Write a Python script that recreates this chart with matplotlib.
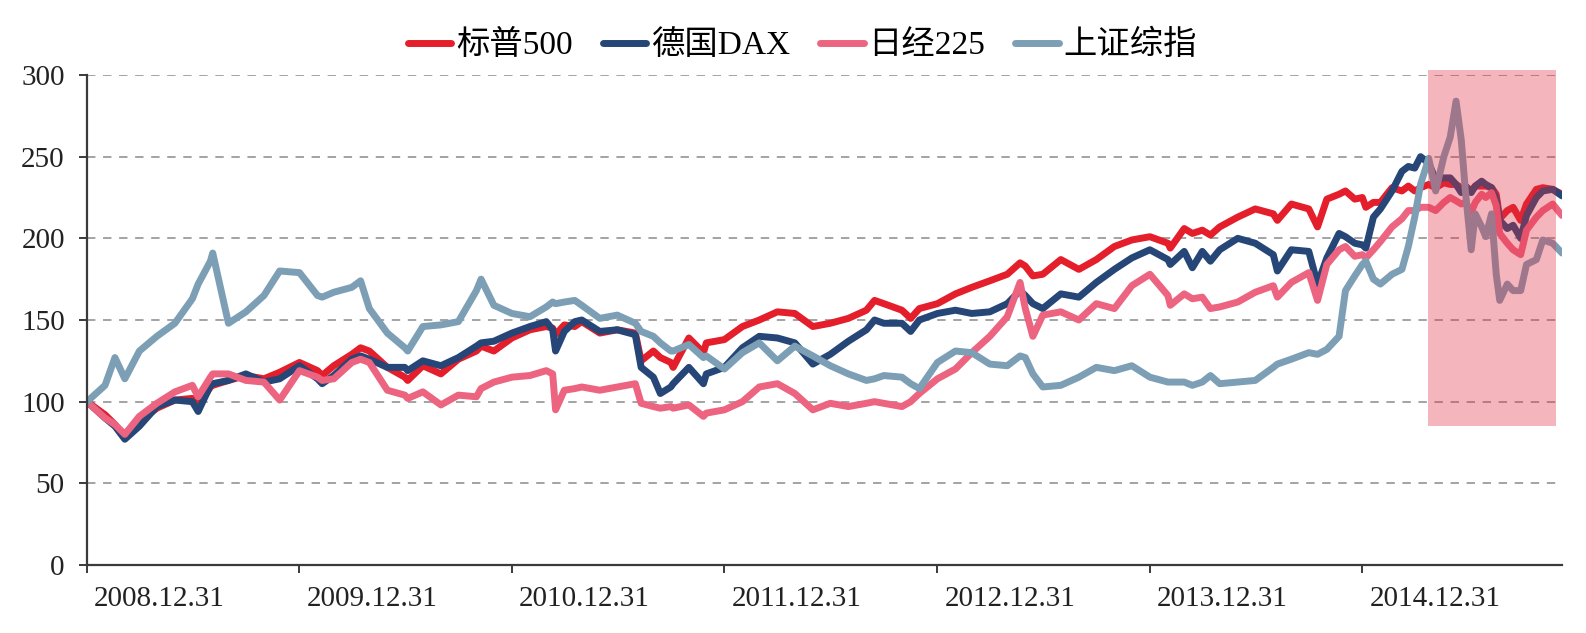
import matplotlib
matplotlib.use("Agg")
import matplotlib.pyplot as plt
import pandas as pd

# index levels, 2008.12.31 = 100
DATES = [
    "2008-12-31",
    "2009-01-31", "2009-02-17", "2009-03-06", "2009-03-31", "2009-04-30", "2009-05-31", "2009-06-30",
    "2009-07-10", "2009-07-31", "2009-08-04", "2009-08-31", "2009-09-30", "2009-10-31", "2009-11-27",
    "2009-12-31",
    "2010-01-31", "2010-02-08", "2010-02-28", "2010-03-31", "2010-04-15", "2010-04-30", "2010-05-31",
    "2010-06-30", "2010-07-05", "2010-07-31", "2010-08-31", "2010-09-30", "2010-10-31", "2010-11-08",
    "2010-11-30", "2010-12-31",
    "2011-01-31", "2011-02-28", "2011-03-11", "2011-03-16", "2011-03-31", "2011-04-18", "2011-04-30",
    "2011-05-31", "2011-06-30", "2011-07-31", "2011-08-10", "2011-08-31", "2011-09-12", "2011-09-30",
    "2011-10-04", "2011-10-31", "2011-11-25", "2011-11-30", "2011-12-31",
    "2012-01-31", "2012-02-29", "2012-03-31", "2012-04-30", "2012-05-31", "2012-06-30", "2012-07-31",
    "2012-08-31", "2012-09-14", "2012-09-30", "2012-10-31", "2012-11-15", "2012-11-30", "2012-12-31",
    "2013-01-31", "2013-02-28", "2013-03-31", "2013-04-30", "2013-05-22", "2013-05-31", "2013-06-13",
    "2013-06-30", "2013-07-31", "2013-08-31", "2013-09-30", "2013-10-31", "2013-11-30", "2013-12-31",
    "2014-01-31", "2014-02-04", "2014-02-28", "2014-03-14", "2014-03-31", "2014-04-14", "2014-04-30",
    "2014-05-31", "2014-06-30", "2014-07-31", "2014-08-07", "2014-08-31", "2014-09-30", "2014-10-15",
    "2014-10-31", "2014-11-21", "2014-12-02", "2014-12-18", "2014-12-31",
    "2015-01-06", "2015-01-19", "2015-01-31", "2015-02-20", "2015-03-09", "2015-03-20", "2015-03-31",
    "2015-04-10", "2015-04-24", "2015-05-06", "2015-05-20", "2015-05-31", "2015-06-10", "2015-06-19",
    "2015-06-26", "2015-07-06", "2015-07-13", "2015-07-24", "2015-07-31", "2015-08-10", "2015-08-18",
    "2015-08-24", "2015-09-06", "2015-09-16", "2015-09-29", "2015-10-09", "2015-10-26", "2015-11-06",
    "2015-11-23", "2015-12-09",
]

SP500 = [
    100,
    92, 86, 78, 88, 96, 101, 102, 97, 109, 110, 113, 116, 114, 118, 124,
    119, 116, 122, 129, 133, 131, 121, 115, 113, 122, 117, 126, 131, 134, 131, 139,
    144, 146, 145, 141, 147, 146, 149, 142, 144, 142, 125, 131, 127, 124, 121, 139, 130, 136, 138,
    146, 150, 155, 154, 146, 148, 151, 156, 162, 160, 156, 151, 157, 160,
    166, 170, 174, 178, 185, 183, 177, 178, 187, 181, 187, 195, 199, 201,
    197, 194, 206, 203, 205, 202, 207, 213, 218, 215, 211, 221, 218, 207, 224, 227, 229, 224, 225,
    219, 222, 222, 231, 229, 232, 229, 231, 233, 231, 234, 233, 233, 231,
    232, 229, 232, 232, 232, 231, 227, 212, 217, 219, 211, 221, 230, 231, 230, 227,
]

DAX = [
    100,
    90, 85, 77, 85, 97, 101, 100, 94, 110, 111, 113, 117, 112, 114, 122,
    114, 111, 116, 126, 128, 126, 121, 121, 119, 125, 122, 127, 134, 136, 137, 142,
    146, 149, 144, 131, 143, 149, 150, 143, 144, 141, 121, 115, 105, 109, 111, 121, 111, 117, 121,
    133, 140, 139, 136, 123, 129, 137, 144, 150, 148, 148, 143, 150, 154,
    156, 154, 155, 160, 168, 165, 160, 157, 166, 164, 173, 181, 188, 193,
    187, 184, 192, 182, 192, 186, 193, 200, 197, 190, 180, 193, 192, 172, 188, 203, 201, 197, 196,
    194, 213, 218, 229, 241, 244, 243, 250, 246, 236, 237, 237, 233, 228,
    232, 228, 232, 235, 233, 231, 224, 211, 206, 208, 200, 214, 225, 229, 230, 226,
]

NIKKEI = [
    100,
    90, 86, 80, 91, 99, 106, 110, 103, 115, 117, 117, 113, 112, 101, 119,
    115, 113, 114, 124, 126, 124, 107, 104, 102, 106, 98, 104, 103, 108, 112, 115,
    116, 119, 117, 95, 107, 108, 109, 107, 109, 111, 99, 97, 96, 97, 96, 98, 91, 93, 95,
    100, 109, 111, 105, 95, 99, 97, 99, 100, 99, 97, 100, 105, 114,
    120, 130, 140, 152, 173, 157, 140, 153, 155, 150, 160, 157, 171, 178,
    165, 159, 166, 163, 164, 157, 158, 161, 167, 171, 164, 173, 179, 162, 184, 193, 195, 189, 190,
    188, 193, 198, 207, 212, 217, 217, 219, 219, 217, 222, 225, 223, 221,
    222, 216, 222, 227, 225, 228, 220, 203, 197, 193, 190, 205, 213, 217, 221, 214,
]

SHCOMP = [
    100,
    110, 127, 114, 131, 140, 148, 163, 172, 186, 191, 148, 155, 165, 180, 179,
    165, 164, 167, 170, 174, 157, 142, 133, 131, 146, 147, 149, 168, 175, 159, 154,
    152, 158, 161, 160, 161, 162, 159, 151, 153, 148, 143, 140, 136, 131, 131, 135, 127, 128, 120,
    130, 136, 125, 134, 128, 122, 117, 113, 114, 116, 115, 111, 108, 124,
    131, 130, 123, 122, 128, 127, 117, 109, 110, 115, 121, 119, 122, 115,
    112, 112, 112, 110, 112, 116, 111, 112, 113, 121, 123, 126, 130, 129, 132, 140, 168, 177, 184,
    186, 175, 172, 178, 181, 195, 213, 233, 249, 229, 250, 262, 284, 260,
    229, 193, 215, 207, 201, 215, 178, 162, 172, 168, 168, 184, 187, 199, 197, 191,
]

SERIES = ["标普500", "德国DAX", "日经225", "上证综指"]
COLORS = ["#E41E2B", "#254677", "#EC6480", "#7C9FB5"]

TICK_DATES = ["2008-12-31", "2009-12-31", "2010-12-31", "2011-12-31",
              "2012-12-31", "2013-12-31", "2014-12-31"]
TICK_LABELS = [d.replace("-", ".") for d in TICK_DATES]

SHADE_START, SHADE_END = "2015-04-22", "2015-11-28"
SHADE_LOW, SHADE_HIGH = 85, 303

plt.rcParams["font.family"] = ["Liberation Serif", "Noto Sans CJK SC"]

dates = pd.to_datetime(DATES)
ticks = pd.to_datetime(TICK_DATES)

fig = plt.figure(figsize=(15.86, 6.33), dpi=100)
ax = fig.add_axes([87 / 1586, 68 / 633, 1475 / 1586, 490 / 633])

for name, vals, col in zip(SERIES, [SP500, DAX, NIKKEI, SHCOMP], COLORS):
    ax.plot(dates, vals, color=col, lw=5.0, label=name,
            solid_capstyle="round", solid_joinstyle="round")

ax.fill_between(pd.to_datetime([SHADE_START, SHADE_END]), SHADE_LOW, SHADE_HIGH,
                color="#E22E40", alpha=0.35, lw=0, zorder=5, clip_on=False)

ax.set_ylim(0, 300)
ax.set_yticks(range(0, 301, 50))
ax.set_xlim(pd.Timestamp("2008-12-31"), pd.Timestamp("2015-12-09"))

# tick marks at year ends, labels start just to the right of each mark
ax.set_xticks(ticks, labels=[""] * len(ticks))
ax.set_xticks(ticks + pd.Timedelta(days=12), labels=TICK_LABELS, minor=True, ha="left")

ax.yaxis.grid(True, linestyle=(0, (5.5, 5)), color="#8a8a8a", lw=1.1)
ax.set_axisbelow(True)
for s in ["top", "right"]:
    ax.spines[s].set_visible(False)
for s in ["left", "bottom"]:
    ax.spines[s].set_color("#3a3a3a")
    ax.spines[s].set_linewidth(1.6)

ax.tick_params(axis="both", labelsize=21, colors="#3a3a3a", labelcolor="#222222",
               length=6, width=1.4, direction="out")
ax.tick_params(axis="y", pad=10)
ax.tick_params(axis="x", which="minor", length=0, pad=15, labelsize=21, labelcolor="#222222")

fig.legend(loc="center", bbox_to_anchor=(0.506, 0.928), ncol=4, frameon=False,
           fontsize=24, handlelength=1.3, handletextpad=0.15, columnspacing=0.9)

fig.savefig("out.png", dpi=100)
